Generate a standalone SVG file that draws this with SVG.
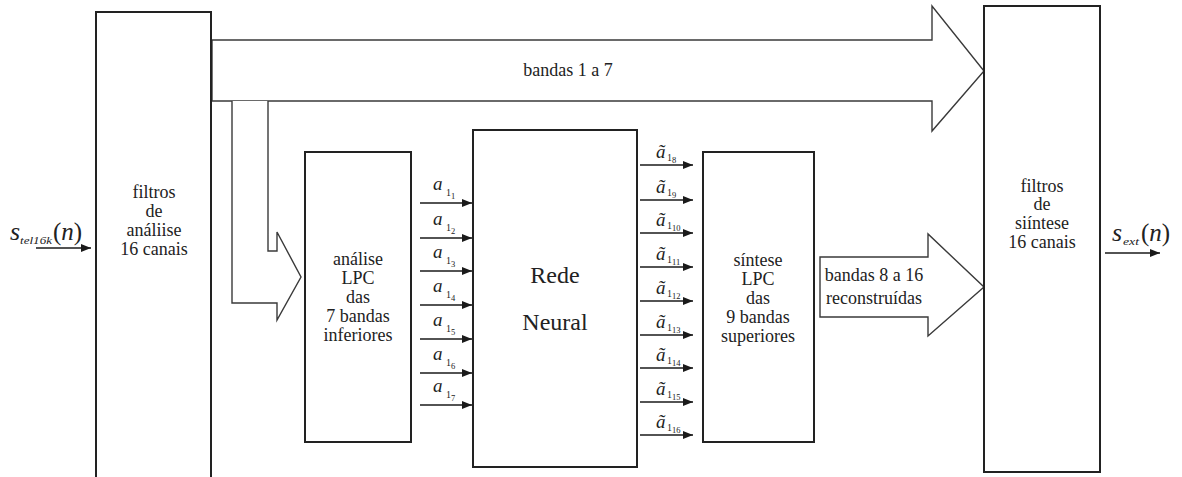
<svg xmlns="http://www.w3.org/2000/svg" width="1182" height="477" viewBox="0 0 1182 477">
  <defs>
    <marker id="head" viewBox="0 0 10 8" refX="10" refY="4" markerWidth="10" markerHeight="8" markerUnits="userSpaceOnUse" orient="auto">
      <path d="M0,0 L10,4 L0,8 Z" fill="#1a1a1a"/>
    </marker>
    <style>
      .box { fill: #fff; stroke: #222; stroke-width: 2; }
      .fat { fill: #fff; stroke: #3a3a3a; stroke-width: 1.4; stroke-linejoin: miter; }
      .wire { fill: none; stroke: #1a1a1a; stroke-width: 1.6; marker-end: url(#head); }
      text { font-family: 'Liberation Serif', 'Times New Roman', serif; fill: #222; }
      .t { font-size: 18px; text-anchor: middle; }
      .big { font-size: 24px; }
      .m { font-style: italic; }
      .a { font-size: 19px; }
      .s1 { font-size: 10px; font-style: normal; }
      .s2 { font-size: 8.5px; font-style: normal; }
    </style>
  </defs>

  <!-- wide band arrows and signal wires -->
  <g id="connectors">
    <polygon class="fat" points="212,40 932,40 932,6 984,71 932,131 932,101 212,101"/>
    <polyline class="fat" points="232,101 232,303 277,303 277,320 301,277 277,232 277,251 268,251 268,101"/>
    <polygon class="fat" points="820,257 928,257 928,234 984,287 928,336 928,317 820,317"/>

    <line class="wire" x1="36" y1="248" x2="91" y2="248"/>
    <line class="wire" x1="1105" y1="253" x2="1160" y2="253"/>

    <line class="wire" x1="420" y1="203" x2="472" y2="203"/>
    <line class="wire" x1="420" y1="238" x2="472" y2="238"/>
    <line class="wire" x1="420" y1="271" x2="472" y2="271"/>
    <line class="wire" x1="420" y1="305" x2="472" y2="305"/>
    <line class="wire" x1="420" y1="339" x2="472" y2="339"/>
    <line class="wire" x1="420" y1="373" x2="472" y2="373"/>
    <line class="wire" x1="420" y1="405" x2="472" y2="405"/>

    <line class="wire" x1="640" y1="165" x2="693" y2="165"/>
    <line class="wire" x1="640" y1="200" x2="693" y2="200"/>
    <line class="wire" x1="640" y1="233" x2="693" y2="233"/>
    <line class="wire" x1="640" y1="267" x2="693" y2="267"/>
    <line class="wire" x1="640" y1="301" x2="693" y2="301"/>
    <line class="wire" x1="640" y1="335" x2="693" y2="335"/>
    <line class="wire" x1="640" y1="368" x2="693" y2="368"/>
    <line class="wire" x1="640" y1="402" x2="693" y2="402"/>
    <line class="wire" x1="640" y1="435" x2="693" y2="435"/>
  </g>

  <text class="t" x="568" y="76" font-size="17">bandas 1 a 7</text>
  <text class="t" x="874" y="281" font-size="20">bandas 8 a 16</text>
  <text class="t" x="874" y="304" font-size="20">reconstruídas</text>

  <!-- analysis filter bank (open at the bottom) -->
  <g id="analysis-bank">
    <path d="M96,477 L96,12 L211,12 L211,477" fill="#fff" stroke="#222" stroke-width="2"/>
    <text class="t" x="154" y="198">filtros</text>
    <text class="t" x="154" y="217">de</text>
    <text class="t" x="154" y="236">análiise</text>
    <text class="t" x="154" y="255">16 canais</text>
  </g>

  <!-- input signal label -->
  <g id="input-label">
    <text class="m" x="10" y="240" font-size="26">s</text>
    <text class="m" x="20" y="244" font-size="11" textLength="32" lengthAdjust="spacingAndGlyphs">tel16k</text>
    <text x="53" y="240" font-size="25">(<tspan font-style="italic">n</tspan>)</text>
  </g>

  <!-- LPC analysis -->
  <g id="lpc-analysis">
    <rect class="box" x="305" y="152" width="106" height="290"/>
    <text class="t" x="358" y="265">análise</text>
    <text class="t" x="358" y="284">LPC</text>
    <text class="t" x="358" y="303">das</text>
    <text class="t" x="358" y="322">7 bandas</text>
    <text class="t" x="358" y="341">inferiores</text>
  </g>

  <!-- coefficient labels, lower bands -->
  <g id="coef-in">
    <text class="m a" x="433" y="190">a<tspan class="s1" x="446" y="196">1</tspan><tspan class="s2" x="451" y="199">1</tspan></text>
    <text class="m a" x="433" y="225">a<tspan class="s1" x="446" y="231">1</tspan><tspan class="s2" x="451" y="234">2</tspan></text>
    <text class="m a" x="433" y="258">a<tspan class="s1" x="446" y="264">1</tspan><tspan class="s2" x="451" y="267">3</tspan></text>
    <text class="m a" x="433" y="292">a<tspan class="s1" x="446" y="298">1</tspan><tspan class="s2" x="451" y="301">4</tspan></text>
    <text class="m a" x="433" y="326">a<tspan class="s1" x="446" y="332">1</tspan><tspan class="s2" x="451" y="335">5</tspan></text>
    <text class="m a" x="433" y="360">a<tspan class="s1" x="446" y="366">1</tspan><tspan class="s2" x="451" y="369">6</tspan></text>
    <text class="m a" x="433" y="392">a<tspan class="s1" x="446" y="398">1</tspan><tspan class="s2" x="451" y="401">7</tspan></text>
  </g>

  <!-- neural network -->
  <g id="neural-net">
    <rect class="box" x="473" y="130" width="164" height="337"/>
    <text class="t big" x="555" y="283">Rede</text>
    <text class="t big" x="555" y="330">Neural</text>
  </g>

  <!-- estimated coefficient labels, upper bands -->
  <g id="coef-out">
    <text class="m a" x="656" y="158">ã<tspan class="s1" x="667" y="161">1</tspan><tspan class="s2" x="672" y="163">8</tspan></text>
    <text class="m a" x="656" y="193">ã<tspan class="s1" x="667" y="196">1</tspan><tspan class="s2" x="672" y="198">9</tspan></text>
    <text class="m a" x="656" y="226">ã<tspan class="s1" x="667" y="229">1</tspan><tspan class="s2" x="672" y="231">10</tspan></text>
    <text class="m a" x="656" y="260">ã<tspan class="s1" x="667" y="263">1</tspan><tspan class="s2" x="672" y="265">11</tspan></text>
    <text class="m a" x="656" y="294">ã<tspan class="s1" x="667" y="297">1</tspan><tspan class="s2" x="672" y="299">12</tspan></text>
    <text class="m a" x="656" y="328">ã<tspan class="s1" x="667" y="331">1</tspan><tspan class="s2" x="672" y="333">13</tspan></text>
    <text class="m a" x="656" y="361">ã<tspan class="s1" x="667" y="364">1</tspan><tspan class="s2" x="672" y="366">14</tspan></text>
    <text class="m a" x="656" y="395">ã<tspan class="s1" x="667" y="398">1</tspan><tspan class="s2" x="672" y="400">15</tspan></text>
    <text class="m a" x="656" y="428">ã<tspan class="s1" x="667" y="431">1</tspan><tspan class="s2" x="672" y="433">16</tspan></text>
  </g>

  <!-- LPC synthesis -->
  <g id="lpc-synthesis">
    <rect class="box" x="703" y="152" width="111" height="290"/>
    <text class="t" x="758" y="266">síntese</text>
    <text class="t" x="758" y="285">LPC</text>
    <text class="t" x="758" y="304">das</text>
    <text class="t" x="758" y="323">9 bandas</text>
    <text class="t" x="758" y="342">superiores</text>
  </g>

  <!-- synthesis filter bank -->
  <g id="synthesis-bank">
    <rect class="box" x="984" y="6" width="116" height="466"/>
    <text class="t" x="1042" y="192">filtros</text>
    <text class="t" x="1042" y="210">de</text>
    <text class="t" x="1042" y="229">siíntese</text>
    <text class="t" x="1042" y="248">16 canais</text>
  </g>

  <!-- output signal label -->
  <g id="output-label">
    <text class="m" x="1112" y="241" font-size="26">s</text>
    <text class="m" x="1123" y="245" font-size="11" textLength="16" lengthAdjust="spacingAndGlyphs">ext</text>
    <text x="1141" y="241" font-size="25">(<tspan font-style="italic">n</tspan>)</text>
  </g>
</svg>
